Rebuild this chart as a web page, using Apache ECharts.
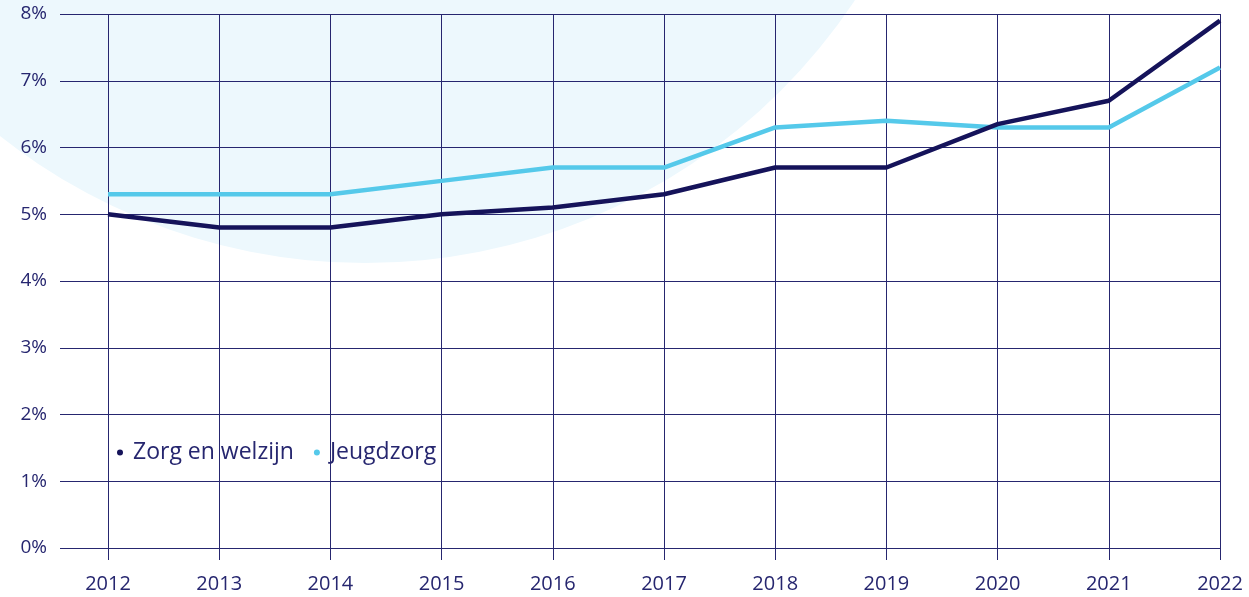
<!DOCTYPE html>
<html lang="nl">
<head>
    <meta charset="UTF-8"/>
    <script type="text/javascript" src="https://cdn.jsdelivr.net/npm/echarts@6/dist/echarts.min.js"></script>
    <title>Zorg en welzijn / Jeugdzorg</title>
    <style>
        html, body { margin: 0; padding: 0; background: #fff; }
        #main { width: 1249px; height: 597px; }
    </style>
</head>
<body>
<div id="main"></div>
<script type="text/javascript">
    // jaren op de x-as
    var years = ['2012', '2013', '2014', '2015', '2016', '2017', '2018', '2019', '2020', '2021', '2022']
    // percentages per sector
    var zorgWelzijn = [5.0, 4.8, 4.8, 5.0, 5.1, 5.3, 5.7, 5.7, 6.35, 6.7, 7.9]
    var jeugdzorg = [5.3, 5.3, 5.3, 5.5, 5.7, 5.7, 6.3, 6.4, 6.3, 6.3, 7.2]
    var seriesNames = ['Zorg en welzijn', 'Jeugdzorg']

    var navy = '#26266f'
    var font = 'Open Sans'

    var myChart = echarts.init(document.getElementById('main'))

    var option = {
        animation: false,
        textStyle: { fontFamily: font },
        graphic: [{
            type: 'circle',
            z: -100,
            silent: true,
            shape: { cx: 365, cy: -325, r: 588 },
            style: { fill: '#edf8fd' }
        }],
        legend: {
            left: 112,
            top: 436,
            icon: 'circle',
            itemWidth: 6,
            itemHeight: 6,
            itemGap: 20,
            textStyle: { fontSize: 23, color: navy, fontFamily: font, padding: [0, 0, 0, 5] },
            data: seriesNames
        },
        grid: [
            { left: 60, right: 29, top: 14, bottom: 49 },
            { left: 108, right: 29, top: 14, bottom: 49 }
        ],
        xAxis: [
            { gridIndex: 0, type: 'value', show: false, min: 0, max: 1 },
            {
                gridIndex: 1,
                type: 'category',
                boundaryGap: false,
                data: years,
                axisLine: { show: false },
                axisTick: { show: true, length: 12, lineStyle: { color: navy, width: 1 } },
                axisLabel: { margin: 26, fontSize: 20, color: navy, fontFamily: font },
                splitLine: { show: true, lineStyle: { color: navy, width: 1 } }
            }
        ],
        yAxis: [
            {
                gridIndex: 0,
                type: 'value',
                min: 0,
                max: 8,
                interval: 1,
                axisLine: { show: false },
                axisTick: { show: false },
                axisLabel: { formatter: '{value}%', margin: 13, fontSize: 19, color: navy, fontFamily: font },
                splitLine: { show: true, lineStyle: { color: navy, width: 1 } }
            },
            { gridIndex: 1, type: 'value', min: 0, max: 8, show: false }
        ],
        series: [
            {
                name: seriesNames[0],
                type: 'line',
                xAxisIndex: 1,
                yAxisIndex: 1,
                data: zorgWelzijn,
                symbol: 'none',
                color: '#15135a',
                lineStyle: { width: 4.5, color: '#15135a' },
                z: 4
            },
            {
                name: seriesNames[1],
                type: 'line',
                xAxisIndex: 1,
                yAxisIndex: 1,
                data: jeugdzorg,
                symbol: 'none',
                color: '#55c9ea',
                lineStyle: { width: 4.5, color: '#55c9ea' },
                z: 3
            }
        ]
    }

    myChart.setOption(option)
</script>
</body>
</html>
